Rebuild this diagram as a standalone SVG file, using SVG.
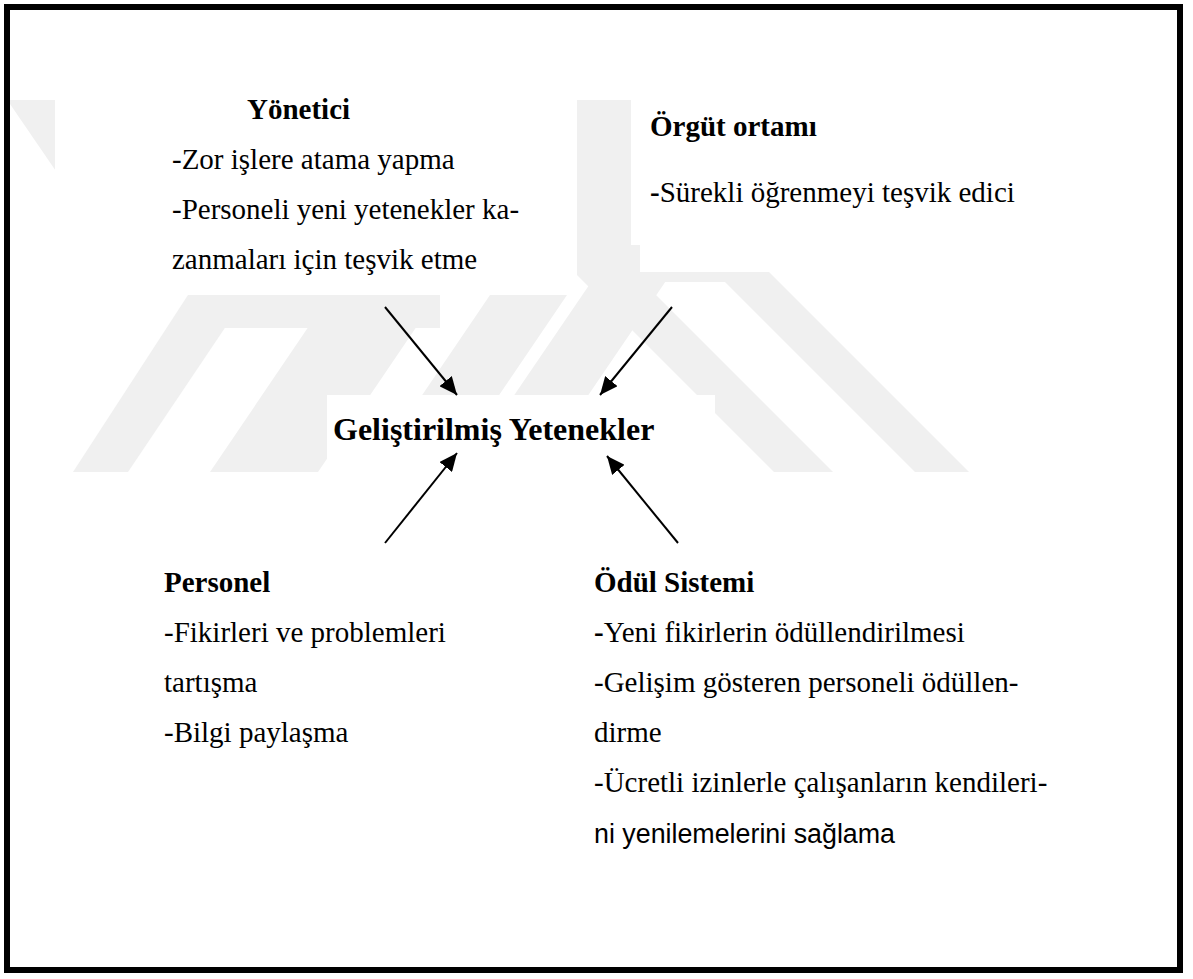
<svg xmlns="http://www.w3.org/2000/svg" width="1193" height="979" viewBox="0 0 1193 979">
  <defs>
    <marker id="arrow" markerUnits="userSpaceOnUse" markerWidth="20" markerHeight="16" refX="18" refY="8" orient="auto">
      <path d="M0,0 L18,8 L0,16 Z" fill="#000"/>
    </marker>
    <style>
      .t { font-family: "Liberation Serif", "Times New Roman", serif; font-size: 29px; fill: #000; }
      .b { font-weight: bold; }
      .s { font-family: "Liberation Sans", Arial, sans-serif; font-size: 27px; fill: #000; }
      .wm { fill: #f0f0f0; }
      .mask { fill: #ffffff; }
      .edge { stroke: #000; stroke-width: 2; fill: none; marker-end: url(#arrow); }
    </style>
  </defs>
  <rect x="0" y="0" width="1193" height="979" fill="#ffffff"/>

  <g id="watermark">
    <polygon class="wm" points="10,100 640,100 640,272 125,272 10,104"/>
    <polygon class="wm" points="73,472 128,472 247,295 188,295"/>
    <polygon class="wm" points="210,472 318,472 438,295 330,295"/>
    <rect class="wm" x="188" y="295" width="252" height="33"/>
    <polygon class="wm" points="370,472 447,472 567,295 490,295"/>
    <polygon class="wm" points="462,472 536,472 672,272 598,272"/>
    <polygon class="wm" points="574,272 633,272 833,472 774,472"/>
    <polygon class="wm" points="640,272 769,272 969,472 915,472 725,282 660,282"/>
  </g>

  <g id="masks">
    <rect class="mask" x="55" y="100" width="522" height="195"/>
    <rect class="mask" x="631" y="95" width="546" height="150"/>
    <rect class="mask" x="327" y="395" width="388" height="80"/>
  </g>

  <rect id="frame" x="7" y="7" width="1173" height="963" fill="none" stroke="#000" stroke-width="6"/>

  <g id="connectors">
    <line class="edge" x1="385" y1="307" x2="457" y2="395"/>
    <line class="edge" x1="672" y1="307" x2="600" y2="395"/>
    <line class="edge" x1="385" y1="543" x2="457" y2="453"/>
    <line class="edge" x1="678" y1="543" x2="607" y2="456"/>
  </g>

  <g id="node-yonetici">
    <text class="t b" x="247" y="119">Yönetici</text>
    <text class="t" x="172" y="169">-Zor işlere atama yapma</text>
    <text class="t" x="172" y="219">-Personeli yeni yetenekler ka-</text>
    <text class="t" x="172" y="269">zanmaları için teşvik etme</text>
  </g>

  <g id="node-orgut">
    <text class="t b" x="650" y="136">Örgüt ortamı</text>
    <text class="t" x="650" y="202"><tspan class="b">-</tspan>Sürekli öğrenmeyi teşvik edici</text>
  </g>

  <g id="node-center">
    <text class="t b" x="333" y="440" style="font-size:32px">Geliştirilmiş Yetenekler</text>
  </g>

  <g id="node-personel">
    <text class="t b" x="164" y="592">Personel</text>
    <text class="t" x="164" y="642">-Fikirleri ve problemleri</text>
    <text class="t" x="164" y="692">tartışma</text>
    <text class="t" x="164" y="742">-Bilgi paylaşma</text>
  </g>

  <g id="node-odul">
    <text class="t b" x="594" y="592">Ödül Sistemi</text>
    <text class="t" x="594" y="642"><tspan class="b">-</tspan>Yeni fikirlerin ödüllendirilmesi</text>
    <text class="t" x="594" y="692">-Gelişim gösteren personeli ödüllen-</text>
    <text class="t" x="594" y="742">dirme</text>
    <text class="t" x="594" y="792">-Ücretli izinlerle çalışanların kendileri-</text>
    <text class="s" x="594" y="843" textLength="301" lengthAdjust="spacingAndGlyphs">ni yenilemelerini sağlama</text>
  </g>
</svg>
